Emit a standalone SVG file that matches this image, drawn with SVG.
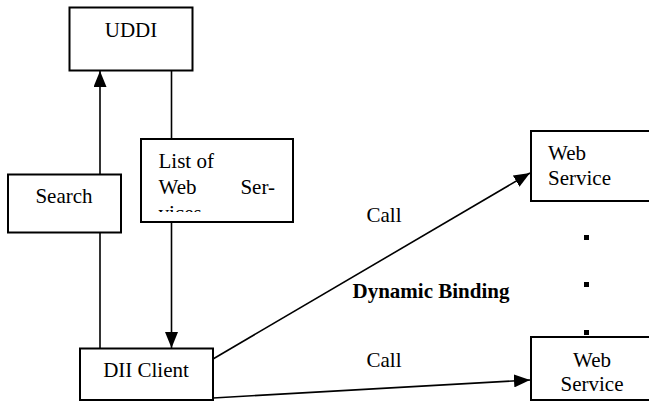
<svg xmlns="http://www.w3.org/2000/svg" width="649" height="402" viewBox="0 0 649 402">
<style>
.box{fill:#fff;stroke:#000;stroke-width:2}
.ln{stroke:#000;stroke-width:1.6;fill:none}
.t{font-family:'Liberation Serif','Times New Roman',Times,serif;font-size:21px;fill:#000}
.b{font-weight:bold}
.dot{fill:#000}
</style>
<defs>
<marker id="ah" markerUnits="userSpaceOnUse" markerWidth="16" markerHeight="13" refX="16" refY="6.5" orient="auto">
<path d="M0,0 L16,6.5 L0,13 z" fill="#000"/>
</marker>
<clipPath id="clipList"><rect x="141" y="139" width="152" height="73"/></clipPath>
</defs>
<rect width="649" height="402" fill="#fff"/>
<g id="connectors">
<line class="ln" x1="100" y1="174" x2="100" y2="71" marker-end="url(#ah)"/>
<line class="ln" x1="100" y1="349" x2="100" y2="232"/>
<line class="ln" x1="171.5" y1="71" x2="171.5" y2="139"/>
<line class="ln" x1="171.5" y1="222" x2="171.5" y2="348" marker-end="url(#ah)"/>
<line class="ln" x1="213" y1="359" x2="530" y2="173" marker-end="url(#ah)"/>
<line class="ln" x1="213" y1="398" x2="530" y2="380" marker-end="url(#ah)"/>
</g>
<g class="t" font-family="Liberation Serif, Times New Roman, serif" font-size="21">
<g id="uddi">
<rect class="box" x="69.5" y="7.5" width="123" height="63"/>
<text x="131" y="37" text-anchor="middle">UDDI</text>
</g>
<g id="search">
<rect class="box" x="8" y="174.5" width="113" height="58"/>
<text x="64" y="203" text-anchor="middle">Search</text>
</g>
<g id="list">
<rect class="box" x="141" y="139" width="152" height="83"/>
<g clip-path="url(#clipList)">
<text x="158.5" y="168">List of</text>
<text x="158.5" y="194">Web</text>
<text x="275" y="194" text-anchor="end">Ser-</text>
<text x="158.5" y="220">vices</text>
</g>
</g>
<g id="dii-client">
<rect class="box" x="80" y="348.5" width="133" height="51.5"/>
<text x="146" y="377" text-anchor="middle">DII Client</text>
</g>
<g id="web-service-1">
<rect class="box" x="531" y="131" width="130" height="70"/>
<text x="548" y="160">Web</text>
<text x="548" y="185">Service</text>
</g>
<g id="web-service-2">
<rect class="box" x="531" y="337" width="130" height="63"/>
<text x="592" y="367" text-anchor="middle">Web</text>
<text x="592" y="391" text-anchor="middle">Service</text>
</g>
<g id="labels">
<text x="384" y="222" text-anchor="middle">Call</text>
<text x="384" y="367" text-anchor="middle">Call</text>
<text x="431" y="298" text-anchor="middle" class="b">Dynamic Binding</text>
<rect class="dot" x="584" y="235" width="5" height="5"/>
<rect class="dot" x="584" y="282" width="5" height="5"/>
<rect class="dot" x="584" y="330" width="5" height="5"/>
</g>
</g>
</svg>
